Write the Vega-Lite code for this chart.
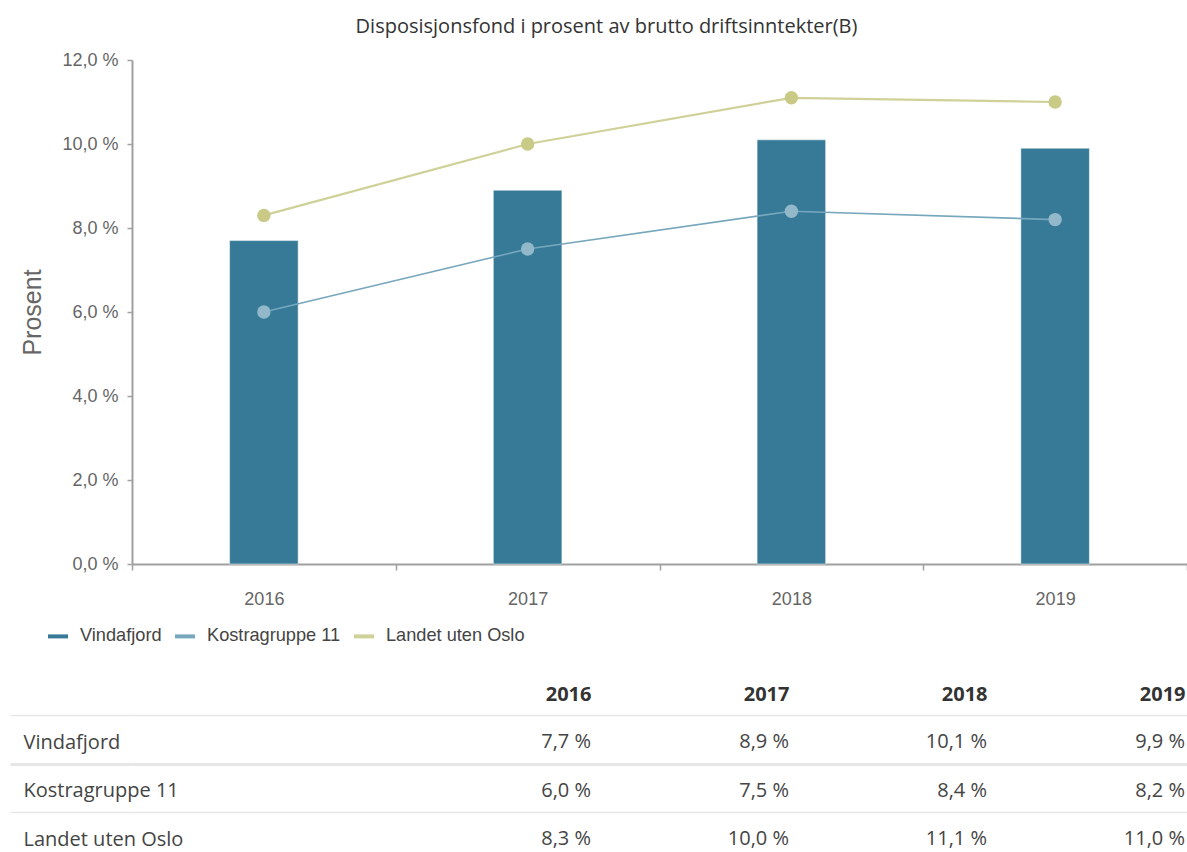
{
  "$schema": "https://vega.github.io/schema/vega-lite/v6.json",
  "padding": {"left": 8, "top": 17, "right": 0, "bottom": 0},
  "background": "white",
  "config": {
    "view": {"stroke": null},
    "font": "Liberation Sans",
    "locale": {"number": {"decimal": ",", "thousands": " ", "grouping": [3], "currency": ["", " kr"], "percent": " %"}}
  },
  "datasets": {
    "main": [
      {"series": "Vindafjord", "year": 2016, "value": 0.077},
      {"series": "Vindafjord", "year": 2017, "value": 0.089},
      {"series": "Vindafjord", "year": 2018, "value": 0.101},
      {"series": "Vindafjord", "year": 2019, "value": 0.099},
      {"series": "Kostragruppe 11", "year": 2016, "value": 0.060},
      {"series": "Kostragruppe 11", "year": 2017, "value": 0.075},
      {"series": "Kostragruppe 11", "year": 2018, "value": 0.084},
      {"series": "Kostragruppe 11", "year": 2019, "value": 0.082},
      {"series": "Landet uten Oslo", "year": 2016, "value": 0.083},
      {"series": "Landet uten Oslo", "year": 2017, "value": 0.100},
      {"series": "Landet uten Oslo", "year": 2018, "value": 0.111},
      {"series": "Landet uten Oslo", "year": 2019, "value": 0.110}
    ]
  },
  "bounds": "flush",
  "spacing": 151,
  "resolve": {"scale": {"x": "independent", "y": "independent", "color": "independent"}},
  "vconcat": [
    {
      "width": 1055,
      "height": 504,
      "data": {"name": "main"},
      "title": {"text": "Disposisjonsfond i prosent av brutto driftsinntekter(B)", "font": "Open Sans", "fontSize": 20, "fontWeight": "normal", "color": "#333333", "anchor": "middle", "dx": -53, "offset": 14},
      "encoding": {
        "x": {
          "field": "year", "type": "ordinal",
          "scale": {"paddingInner": 0, "paddingOuter": 0},
          "axis": {"title": null, "tickBand": "extent", "labelAngle": 0, "labelFontSize": 18, "labelColor": "#666666", "labelPadding": 20, "tickSize": 6, "tickWidth": 1.5, "tickColor": "#a0a0a0", "domainColor": "#a0a0a0", "domainWidth": 2, "grid": false}
        },
        "y": {
          "field": "value", "type": "quantitative",
          "scale": {"domain": [0, 0.12], "nice": false},
          "axis": {"title": "Prosent", "titleFontSize": 25, "titleColor": "#666666", "titleFontWeight": "normal", "titlePadding": 16, "values": [0, 0.02, 0.04, 0.06, 0.08, 0.1, 0.12], "format": ".1%", "labelFontSize": 18, "labelColor": "#666666", "labelPadding": 9, "tickSize": 5, "tickWidth": 1.5, "tickColor": "#a0a0a0", "domainColor": "#a0a0a0", "domainWidth": 2, "grid": false}
        }
      },
      "layer": [
        {
          "transform": [{"filter": "datum.series === 'Vindafjord'"}],
          "mark": {"type": "bar", "width": {"band": 0.26}, "color": "#367a98", "stroke": "#ffffff", "strokeOpacity": 0.5, "strokeWidth": 1}
        },
        {
          "transform": [{"filter": "datum.series !== 'Vindafjord'"}],
          "mark": {"type": "line"},
          "encoding": {
            "color": {
              "field": "series", "type": "nominal",
              "scale": {"domain": ["Vindafjord", "Kostragruppe 11", "Landet uten Oslo"], "range": ["#367a98", "#77a7bd", "#cfd199"]},
              "legend": {"orient": "none", "legendX": -86, "legendY": 564, "direction": "horizontal", "title": null, "symbolType": "stroke", "symbolStrokeWidth": 4, "symbolSize": 400, "labelFontSize": 18.2, "labelColor": "#444444", "columnPadding": 5, "labelOffset": 10}
            },
            "strokeWidth": {
              "field": "series", "type": "nominal",
              "scale": {"domain": ["Kostragruppe 11", "Landet uten Oslo"], "range": [1.6, 2.2]},
              "legend": null
            }
          }
        },
        {
          "transform": [{"filter": "datum.series !== 'Vindafjord'"}],
          "mark": {"type": "circle", "size": 180, "opacity": 1},
          "encoding": {
            "fill": {
              "field": "series", "type": "nominal",
              "scale": {"domain": ["Kostragruppe 11", "Landet uten Oslo"], "range": ["#93b8c9", "#c9ca86"]},
              "legend": null
            }
          }
        }
      ]
    },
    {
      "width": 1055,
      "height": 137,
      "data": {"name": "main"},
      "mark": {"type": "text", "align": "right", "baseline": "middle", "dy": 3, "font": "Open Sans", "fontSize": 20, "color": "#444444"},
      "encoding": {
        "x": {
          "field": "year", "type": "quantitative",
          "scale": {"domain": [2013.682, 2019.01], "nice": false, "zero": false},
          "axis": {"orient": "top", "title": null, "values": [2016, 2017, 2018, 2019], "format": "d", "labelFlush": false, "labelAlign": "right", "labelAngle": 0, "domain": false, "ticks": false, "grid": false, "labelFont": "Open Sans", "labelFontSize": 20, "labelFontWeight": "bold", "labelColor": "#333333", "labelPadding": 11}
        },
        "y": {
          "field": "series", "type": "nominal",
          "sort": ["Vindafjord", "Kostragruppe 11", "Landet uten Oslo"],
          "scale": {"range": [0, 145.5], "paddingInner": 0, "paddingOuter": 0},
          "axis": {
            "title": null, "orient": "left", "tickBand": "extent", "tickExtra": false, "domain": false,
            "ticks": true, "tickSize": 122, "tickColor": "#e6e6e6",
            "tickWidth": {"condition": {"test": "datum.value === 'Vindafjord'", "value": 3}, "value": 1.5},
            "grid": true, "gridColor": "#e6e6e6",
            "gridWidth": {"condition": {"test": "datum.value === 'Vindafjord'", "value": 3}, "value": 1.5},
            "labelAlign": "left", "labelBaseline": "middle", "labelPadding": -13, "labelOffset": 3,
            "labelFont": "Open Sans", "labelFontSize": 20, "labelColor": "#444444", "labelLimit": 0
          }
        },
        "text": {"field": "value", "type": "quantitative", "format": ".1%"}
      }
    }
  ]
}
